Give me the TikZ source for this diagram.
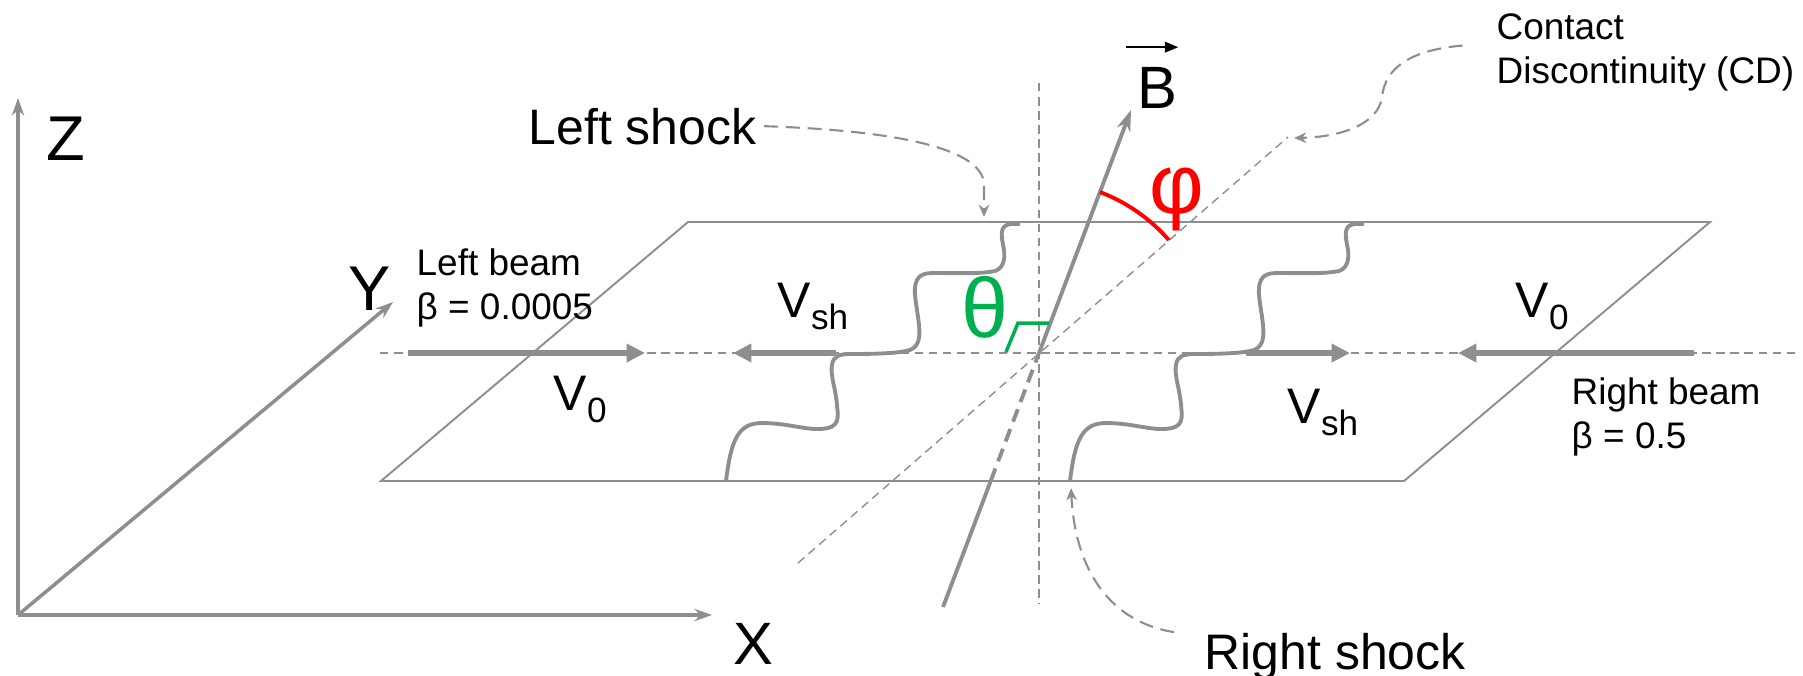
\documentclass[tikz,border=0pt]{standalone}
\usepackage{fontspec}
\setmainfont{Liberation Sans}
\definecolor{shockgray}{HTML}{8C8F91}
\definecolor{thetagreen}{HTML}{00B050}
\definecolor{phired}{HTML}{FF0000}
\usetikzlibrary{arrows.meta, positioning, calc}
\newcommand{\velsub}[1]{\raisebox{-3.5pt}{\fontsize{10}{12}\selectfont #1}}
\tikzset{
  guide/.style={draw=shockgray, line width=0.4pt, dash pattern=on 2.4pt off 1.6pt},
  plane/.style={draw=shockgray, line width=0.55pt},
  axis/.style={-{Stealth[length=5pt,width=3.5pt]}, line width=1pt, color=shockgray},
  vel/.style={-{Triangle[length=5.2pt,width=5pt]}, line width=1.6pt, color=shockgray},
  shock/.style={draw=shockgray, line width=1.1pt},
  note/.style={-{Stealth[length=3.5pt,width=3pt]}, line width=0.6pt, color=shockgray,
               dash pattern=on 4pt off 2.2pt},
  field/.style={line width=1.1pt, color=shockgray},
  lbl/.style={font=\fontsize{10.5}{12.6}\selectfont, inner sep=0pt, align=left},
  big/.style={font=\fontsize{14.2}{17}\selectfont, inner sep=0pt},
  axlbl/.style={font=\fontsize{18}{21}\selectfont, inner sep=0pt},
  greek/.style={font=\fontsize{24}{28}\selectfont, inner sep=0pt},
}

\begin{document}
\begin{tikzpicture}[x=0.01cm,y=-0.01cm]
\useasboundingbox (0,0) rectangle (1803,675);
% axes
\coordinate (O) at (18,615);
\coordinate (zend) at (18,98);
\coordinate (xend) at (712,615);
\coordinate (yend) at (393,302);
\draw[axis] (O) -- (zend);
\draw[axis] (O) -- (xend);
\draw[axis] (O) -- (yend);
\node[axlbl,anchor=base west] (zlbl) at (46,160) {Z};
\node[axlbl,anchor=base west] (ylbl) at (348,310) {Y};
\node[axlbl,font=\fontsize{17}{20}\selectfont,anchor=base west] (xlbl) at (733,664) {X};
% plane and guides
\draw[plane] (381,481) -- (688,222) -- (1710,222) -- (1404,481) -- cycle;
\coordinate (C) at (1039,353);
\draw[guide] (380,353) -- (1795,353);
\draw[guide] (1039,83) -- (1039,604);
\draw[guide] (798,563) -- (1288,137);
% shocks
\foreach \dx in {0,344}
  \draw[shock, shift={(\dx,0)}] (726,481) .. controls (731,440) and (738,423) .. (762,423)
    .. controls (790,423) and (810,432) .. (828,428)
    .. controls (840,425) and (838,415) .. (837,405)
    .. controls (836,390) and (830,375) .. (832,365)
    .. controls (833,356) and (840,354) .. (850,354)
    .. controls (880,354) and (900,353) .. (910,350)
    .. controls (920,346) and (920,335) .. (919,325)
    .. controls (917,305) and (912,290) .. (917,280)
    .. controls (920,274) and (926,273) .. (935,273)
    .. controls (960,273) and (980,274) .. (995,271)
    .. controls (1004,268) and (1005,258) .. (1004,250)
    .. controls (1002,238) and (998,226) .. (1010,224) -- (1020,224);
% velocities
\draw[vel] (408,353) -- (645,353);
\draw[vel] (836,353) -- (733,353);
\draw[vel] (1246,353) -- (1350,353);
\draw[vel] (1694,353) -- (1458,353);
\node[big,anchor=base west] (v0left) at (553,410) {V\velsub{0}};
\node[big,anchor=base west] (vshleft) at (777,317) {V\velsub{sh}};
\node[big,anchor=base west] (vshright) at (1287,423) {V\velsub{sh}};
\node[big,anchor=base west] (v0right) at (1515,317) {V\velsub{0}};
\node[lbl,anchor=north west] (leftbeam) at (416,248) {Left beam\\β = 0.0005};
\node[lbl,anchor=north west] (rightbeam) at (1571,377) {Right beam\\β = 0.5};
% magnetic field
\coordinate (bbot) at (943,607);
\coordinate (bedge) at (990.7,481);
\coordinate (btip) at (1131,110);
\draw[field] (bbot) -- (bedge);
\draw[field, dash pattern=on 3.8pt off 2.2pt] (bedge) -- (C);
\draw[field, -{Stealth[length=6pt,width=4pt]}] (C) -- (btip);
\node[font=\fontsize{17}{20}\selectfont, inner sep=0pt, anchor=base west] (blbl) at (1137,108) {B};
\draw[-{Triangle[length=3.8pt,width=3pt]}, line width=0.5pt]
  ([xshift=-3pt,yshift=5.4pt]blbl.north west) -- ([yshift=5.4pt]blbl.north east);
% angles
\draw[thetagreen, line width=1pt] (1006,352) -- (1018,323) -- (1049,323);
\node[greek, text=thetagreen] (theta) at (985,307) {θ};
\draw[phired, line width=1.1pt] (C) ++(69.3:1.72cm) arc[start angle=69.3, end angle=41, radius=1.72cm];
\node[greek, text=phired] (phi) at (1177,199) {φ};
% annotations
\node[big,anchor=base west] (leftshock) at (528,144) {Left shock};
\node[big,anchor=base west] (rightshock) at (1204,669) {Right shock};
\node[lbl,anchor=north west] (cdlbl) at (1496,13) {Contact\\Discontinuity (CD)};
\coordinate (lstip) at (984,217);
\coordinate (rstip) at (1071,488);
\coordinate (cdtip) at (1294,138);
\draw[note] ([xshift=2pt]leftshock.east) .. controls (880,130) and (984,145) .. (984,185) -- (lstip);
\draw[note] ([xshift=-8.5pt]rightshock.north west) .. controls (1110,622) and (1075,570) .. (rstip);
\draw[note] ([xshift=-9.5pt,yshift=2pt]cdlbl.west) .. controls (1410,50) and (1385,68) .. (1382,97)
  .. controls (1378,125) and (1340,137) .. (cdtip);
\end{tikzpicture}
\end{document}
